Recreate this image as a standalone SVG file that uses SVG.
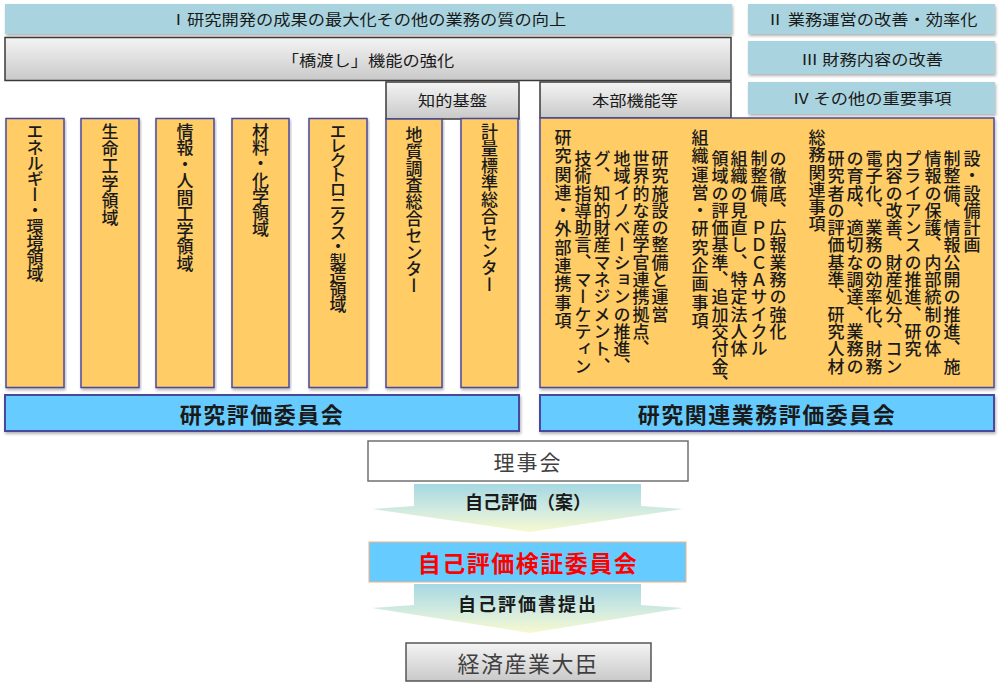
<svg xmlns="http://www.w3.org/2000/svg" width="1000" height="690" viewBox="0 0 1000 690">
<defs>
<linearGradient id="gGray" x1="0" y1="0" x2="0" y2="1">
<stop offset="0" stop-color="#F4F4F4"/><stop offset="1" stop-color="#C9C9C9"/>
</linearGradient>
<linearGradient id="gArrow" x1="0" y1="0" x2="0" y2="1">
<stop offset="0" stop-color="#A6D8E2"/><stop offset="0.55" stop-color="#D2EBE0"/><stop offset="1" stop-color="#F7F9CE"/>
</linearGradient>
<filter id="sh" x="-5%" y="-20%" width="110%" height="150%">
<feDropShadow dx="1" dy="2" stdDeviation="1.5" flood-color="#000" flood-opacity="0.3"/>
</filter>
</defs>
<style>
text{font-family:"Noto Sans CJK JP","Noto Sans CJK SC",sans-serif;fill:#1a1a1a;}
.hdr{fill:#A9D4DF;filter:url(#sh);}
.gray{fill:url(#gGray);stroke:#3a3a3a;stroke-width:1.5;}
.col{fill:#FFCC66;stroke:#4A4A9C;stroke-width:1.5;filter:url(#sh);}
.bar{fill:#66CCFF;stroke:#4A4A9C;stroke-width:2;filter:url(#sh);}
.ht{font-size:15px;text-anchor:middle;dominant-baseline:central;}
.vt{writing-mode:vertical-rl;font-size:17px;font-weight:500;}
.bt{font-size:22px;font-weight:bold;text-anchor:middle;dominant-baseline:central;letter-spacing:1.5px;}
.ct{font-size:21px;text-anchor:middle;dominant-baseline:central;letter-spacing:2px;fill:#404040;}
.at{font-size:18px;font-weight:bold;text-anchor:middle;dominant-baseline:central;}
</style>

<g id="goal1">
<rect class="hdr" x="5" y="4" width="727" height="30"/>
<text class="ht" transform="translate(368,19) scale(1.15,1)">Ⅰ研究開発の成果の最大化その他の業務の質の向上</text>
</g>
<g id="goal2">
<rect class="hdr" x="748" y="4" width="247" height="30"/>
<text class="ht" transform="translate(872,19) scale(1.15,1)">Ⅱ 業務運営の改善・効率化</text>
</g>
<g id="goal3">
<rect class="hdr" x="748" y="41" width="247" height="33"/>
<text class="ht" transform="translate(872,59) scale(1.15,1)">Ⅲ 財務内容の改善</text>
</g>
<g id="goal4">
<rect class="hdr" x="748" y="82" width="247" height="32"/>
<text class="ht" transform="translate(872,98) scale(1.15,1)">Ⅳ その他の重要事項</text>
</g>

<g id="bridge">
<rect class="gray" x="5" y="37.5" width="726" height="43"/>
<text class="ht" transform="translate(368,60) scale(1.15,1)">「橋渡し」機能の強化</text>
</g>
<g id="chiteki">
<rect class="gray" x="386" y="82" width="133" height="37"/>
<text class="ht" transform="translate(452.5,100) scale(1.15,1)">知的基盤</text>
</g>
<g id="honbu">
<rect class="gray" x="540" y="82" width="191" height="36"/>
<text class="ht" transform="translate(635,100) scale(1.15,1)">本部機能等</text>
</g>

<g id="energy">
<rect class="col" x="6" y="118.5" width="58" height="269"/>
<text class="vt" x="35" y="123" style="letter-spacing:-1.2px">エネルギー・環境領域</text>
</g>
<g id="life">
<rect class="col" x="81" y="118.5" width="58" height="269"/>
<text class="vt" x="110" y="123" style="letter-spacing:0.2px">生命工学領域</text>
</g>
<g id="info">
<rect class="col" x="156" y="118.5" width="58" height="269"/>
<text class="vt" x="185" y="123" style="letter-spacing:-0.5px">情報・人間工学領域</text>
</g>
<g id="material">
<rect class="col" x="232" y="118.5" width="57" height="269"/>
<text class="vt" x="260.5" y="123" style="letter-spacing:-0.8px">材料・化学領域</text>
</g>
<g id="electronics">
<rect class="col" x="309" y="118.5" width="58" height="269"/>
<text class="vt" x="338" y="123" style="letter-spacing:-2.6px">エレクトロニクス・製造領域</text>
</g>
<g id="geo">
<rect class="col" x="386" y="119" width="56" height="268.5"/>
<text class="vt" x="414" y="126" style="letter-spacing:-0.2px">地質調査総合センター</text>
</g>
<g id="metrology">
<rect class="col" x="461" y="118.5" width="57" height="269"/>
<text class="vt" x="489.5" y="123">計量標準総合センター</text>
</g>

<g id="hq">
<rect class="col" x="540" y="118" width="454" height="269.5"/>
<text class="vt" x="563" y="129" style="letter-spacing:1.3px">研究関連・外部連携事項</text>
<text class="vt" x="583" y="150" style="letter-spacing:0.3px">技術指導助言、マーケティン</text>
<text class="vt" x="602" y="150" style="letter-spacing:0.3px">グ、知的財産マネジメント、</text>
<text class="vt" x="622" y="150" style="letter-spacing:0.3px">地域イノベーションの推進、</text>
<text class="vt" x="641" y="150" style="letter-spacing:0.3px">世界的な産学官連携拠点、</text>
<text class="vt" x="660" y="150" style="letter-spacing:0.3px">研究施設の整備と運営</text>
<text class="vt" x="700" y="129" style="letter-spacing:1.3px">組織運営・研究企画事項</text>
<text class="vt" x="720" y="150" style="letter-spacing:0.3px">領域の評価基準、追加交付金、</text>
<text class="vt" x="739" y="150" style="letter-spacing:0.3px">組織の見直し、特定法人体</text>
<text class="vt" x="759" y="150" style="letter-spacing:0.3px">制整備、ＰＤＣＡサイクル</text>
<text class="vt" x="778" y="150" style="letter-spacing:0.3px">の徹底、広報業務の強化</text>
<text class="vt" x="817" y="129" style="letter-spacing:0.3px">総務関連事項</text>
<text class="vt" x="836" y="150" style="letter-spacing:0.3px">研究者の評価基準、研究人材</text>
<text class="vt" x="855" y="150" style="letter-spacing:0.3px">の育成、適切な調達、業務の</text>
<text class="vt" x="874" y="150" style="letter-spacing:0.3px">電子化、業務の効率化、財務</text>
<text class="vt" x="894" y="150" style="letter-spacing:0.3px">内容の改善、財産処分、コン</text>
<text class="vt" x="913" y="150" style="letter-spacing:0.3px">プライアンスの推進、研究</text>
<text class="vt" x="933" y="150" style="letter-spacing:0.3px">情報の保護、内部統制の体</text>
<text class="vt" x="952" y="150" style="letter-spacing:0.3px">制整備、情報公開の推進、施</text>
<text class="vt" x="972" y="150" style="letter-spacing:0.3px">設・設備計画</text>
</g>

<g id="research-eval">
<rect class="bar" x="5" y="395" width="514" height="36"/>
<text class="bt" x="262" y="413">研究評価委員会</text>
</g>
<g id="business-eval">
<rect class="bar" x="540" y="395" width="454" height="36"/>
<text class="bt" x="767" y="413">研究関連業務評価委員会</text>
</g>

<g id="board">
<rect x="368" y="441" width="320" height="40" fill="#FFFFFF" stroke="#707070" stroke-width="1.5"/>
<text class="ct" x="528" y="461">理事会</text>
</g>
<g id="verify">
<rect x="369" y="542" width="317" height="40" fill="#66CCFF" stroke="#F4B183" stroke-width="1"/>
<text class="bt" x="528" y="562" style="fill:#FF0000;font-size:23px">自己評価検証委員会</text>
</g>
<g id="minister">
<rect x="406" y="643" width="245" height="38" fill="url(#gGray)" stroke="#555555" stroke-width="1.5"/>
<text class="ct" x="528" y="662" style="font-size:22px;letter-spacing:1.5px">経済産業大臣</text>
</g>

<g id="connectors">
<polygon points="414,484 641,484 641,506 683,509 530,532 372,509 414,506" fill="url(#gArrow)"/>
<text class="at" x="528" y="501">自己評価（案）</text>
<polygon points="414,584 641,584 641,605 683,608 530,633 372,608 414,605" fill="url(#gArrow)"/>
<text class="at" x="528" y="603" style="letter-spacing:2px">自己評価書提出</text>
</g>
</svg>
